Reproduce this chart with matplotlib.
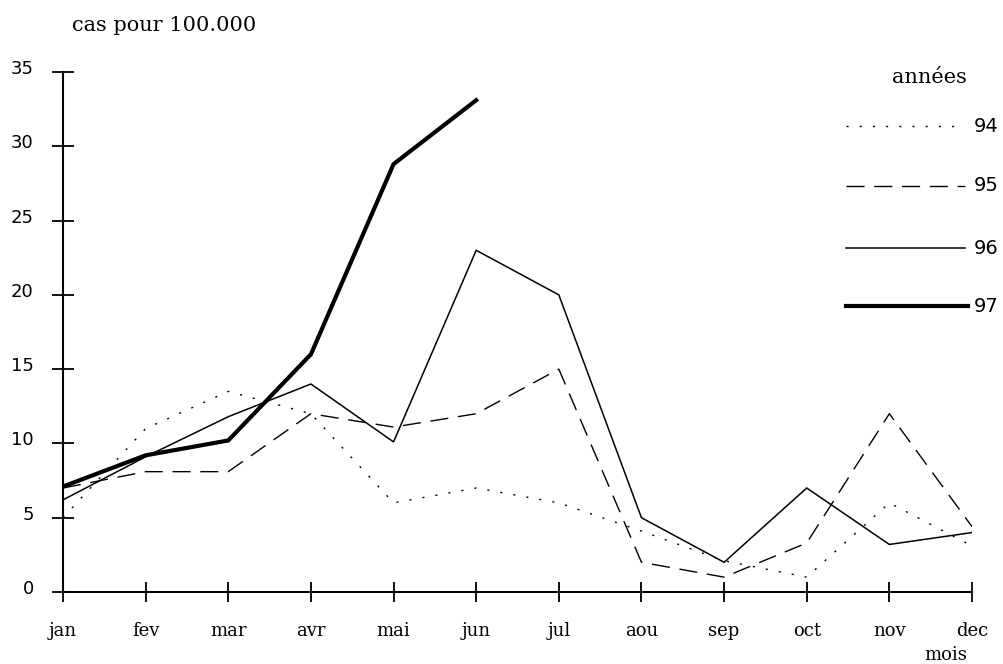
import matplotlib.pyplot as plt
from matplotlib.lines import Line2D
from matplotlib.transforms import ScaledTranslation

# monthly incidence, cases per 100.000
months = ['jan', 'fev', 'mar', 'avr', 'mai', 'jun', 'jul', 'aou', 'sep', 'oct', 'nov', 'dec']
y94 = [5, 11, 13.5, 12, 6, 7, 6, 4.1, 2.1, 1, 6, 3.1]
y95 = [7, 8.1, 8.1, 12, 11.1, 12, 15, 2, 1, 3.3, 12, 4.4]
y96 = [6.2, 9.1, 11.8, 14, 10.1, 23, 20, 5, 2, 7, 3.2, 4]
y97 = [7.1, 9.2, 10.2, 16, 28.8, 33.1]
years = ['94', '95', '96', '97']

W, H = 1004, 664
fig = plt.figure(figsize=(W / 100, H / 100), dpi=100)
ax = fig.add_axes([63 / W, 1 - 592 / H, (972 - 63) / W, (592 - 72) / H])

styles = [
    dict(color='black', lw=1.0, linestyle=(0, (1.5, 8))),
    dict(color='black', lw=1.0, linestyle=(0, (13, 7))),
    dict(color='black', lw=1.1, linestyle='-'),
    dict(color='black', lw=3.0, linestyle='-'),
]
x = list(range(len(months)))
for vals, st in zip([y94, y95, y96, y97], styles):
    ax.plot(x[:len(vals)], vals, solid_joinstyle='miter', **st)

ax.set_xlim(0, len(months) - 1)
ax.set_ylim(0, 35)
ax.set_xticks(x)
ax.set_xticklabels(months, family='DejaVu Serif', fontsize=13)
ax.set_yticks(range(0, 36, 5))
ax.set_yticklabels([str(v) for v in range(0, 36, 5)], family='DejaVu Sans', fontsize=13)
ax.tick_params(axis='x', direction='inout', length=15, width=1.3, pad=14)
ax.tick_params(axis='y', direction='inout', length=16, width=1.3, pad=13)
shift = ScaledTranslation(0, 5 / 100, fig.dpi_scale_trans)
for lab in ax.get_yticklabels():
    lab.set_transform(lab.get_transform() + shift)
for s in ['top', 'right']:
    ax.spines[s].set_visible(False)
for s in ['left', 'bottom']:
    ax.spines[s].set_linewidth(1.5)
ax.patch.set_visible(False)

fig.text(72 / W, 1 - 31 / H, 'cas pour 100.000', family='DejaVu Serif', fontsize=15, va='baseline')
fig.text(967 / W, 1 - 660 / H, 'mois', family='DejaVu Serif', fontsize=13, ha='right', va='baseline')

# legend drawn by hand to keep the original layout
fig.text(967 / W, 1 - 83 / H, 'années', family='DejaVu Serif', fontsize=15, ha='right', va='baseline')
leg_y = [126, 186, 248, 306]
leg_x1 = [955, 965, 965, 968]
for lab, st, ly, lx1 in zip(years, styles, leg_y, leg_x1):
    fig.add_artist(Line2D([846 / W, lx1 / W], [1 - ly / H, 1 - ly / H], transform=fig.transFigure, **st))
    fig.text(974 / W, 1 - ly / H, lab, family='DejaVu Sans', fontsize=14, va='center')

fig.savefig('out.png', dpi=100)
